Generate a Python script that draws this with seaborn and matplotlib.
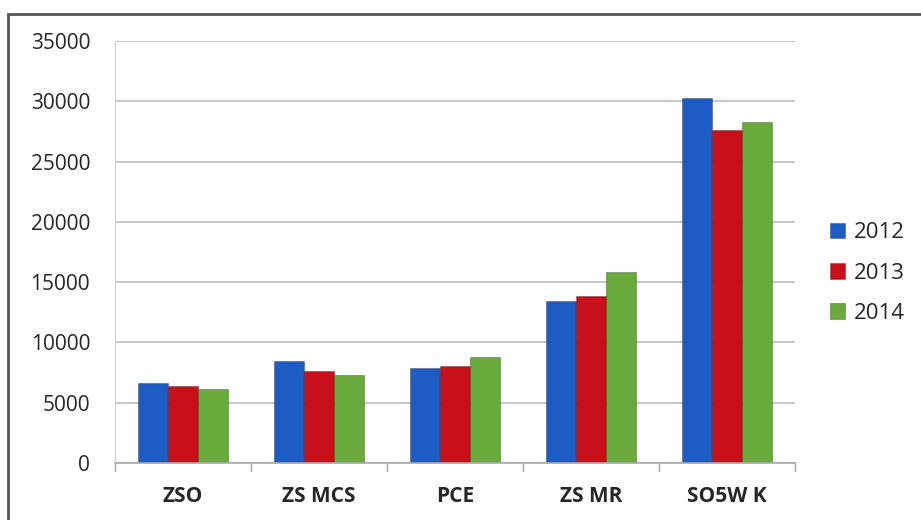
import pandas as pd
import seaborn as sns
import matplotlib.pyplot as plt
from matplotlib.patches import Rectangle

# Values
categories = ["ZSO", "ZS MCS", "PCE", "ZS MR", "SO5W K"]
years = ["2012", "2013", "2014"]
values_2012 = [6600, 8450, 7900, 13400, 30300]
values_2013 = [6350, 7650, 8050, 13850, 27600]
values_2014 = [6150, 7250, 8800, 15800, 28300]
yticks = [0, 5000, 10000, 15000, 20000, 25000, 30000, 35000]

df = pd.DataFrame({
    "category": categories * 3,
    "year": [y for y in years for _ in categories],
    "value": values_2012 + values_2013 + values_2014,
})

sns.set_style("white")
plt.rcParams["font.family"] = ["Open Sans", "DejaVu Sans"]

palette = {"2012": "#1d5cc4", "2013": "#c8101a", "2014": "#6aaa3c"}

fig = plt.figure(figsize=(9.21, 5.2), dpi=100)
ax = fig.add_axes([0.125, 0.11, 0.738, 0.811])

sns.barplot(data=df, x="category", y="value", hue="year", palette=palette,
            width=0.66, saturation=1, ax=ax, edgecolor="none")

# darker edges for a bit of a bevel look
for patch in ax.patches:
    patch.set_edgecolor((0, 0, 0, 0.25))
    patch.set_linewidth(0.8)

ax.set_ylim(0, 35000)
ax.set_yticks(yticks)
ax.set_yticklabels([str(t) for t in yticks], fontsize=15)
ax.set_xlim(-0.5, 4.5)
ax.set_xticks(range(len(categories)))
ax.set_xticklabels(categories, fontsize=15, fontweight="bold")
ax.tick_params(axis="x", length=0, pad=17)
ax.tick_params(axis="y", length=0, pad=18)
ax.set_xlabel("")
ax.set_ylabel("")

ax.yaxis.grid(True, color="#bdbdbd", linewidth=1.2)
ax.set_axisbelow(True)
for side in ["top", "right"]:
    ax.spines[side].set_visible(False)
ax.spines["left"].set_color("#d0d0d0")
ax.spines["bottom"].set_color("#a8a8a8")
ax.spines["bottom"].set_linewidth(1.2)

# small separators between categories below the axis
for b in [-0.5, 0.5, 1.5, 2.5, 3.5, 4.5]:
    ax.plot([b, b], [0, -700], color="#a8a8a8", linewidth=1, clip_on=False)

ax.legend(loc="center left", bbox_to_anchor=(1.022, 0.45), frameon=False,
          fontsize=16, handlelength=0.7, handleheight=0.7,
          labelspacing=0.86, handletextpad=0.4)

# outer frame of the picture
fig.patches.append(Rectangle((0.009, -0.01), 1.0, 0.983, transform=fig.transFigure,
                             fill=False, edgecolor="#555555", linewidth=2))

fig.savefig("out.png", dpi=100)
